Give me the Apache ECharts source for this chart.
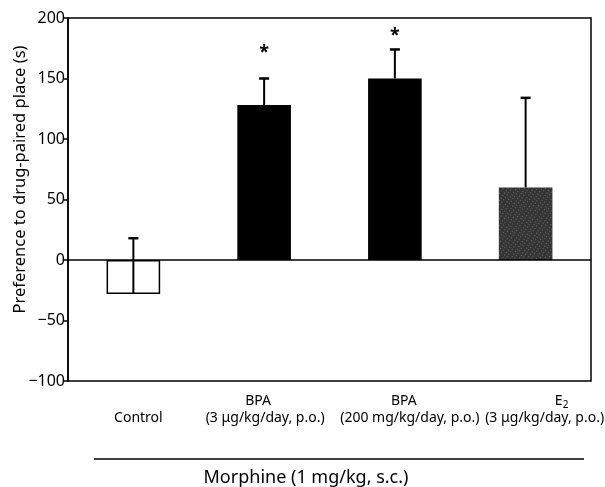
<!DOCTYPE html>
<html>
<head>
<meta charset="utf-8">
<script src="https://cdn.jsdelivr.net/npm/echarts@6/dist/echarts.min.js"></script>
<style>
  html, body { margin: 0; padding: 0; background: #fff; }
  #chart { width: 605px; height: 487px; }
</style>
</head>
<body>
<div id="chart"></div>
<script>
// Place-preference data (mean and upper error, seconds)
const categories = ['Control', 'BPA 3', 'BPA 200', 'E2'];
const labelLine1 = ['', 'BPA', 'BPA', 'E'];
const labelLine2 = ['Control', '(3 μg/kg/day, p.o.)', '(200 mg/kg/day, p.o.)', '(3 μg/kg/day, p.o.)'];
const preference = [-28, 128, 150, 60];
const errorUpper = [46, 22, 24, 74];
const starLevel = [null, 171, 185, null];
const yTicks = { min: -100, max: 200, interval: 50 };

// Styling / layout
const FONT = '"Noto Sans", "DejaVu Sans", sans-serif';
const barColors = ['#ffffff', '#000000', '#000000', '#353535'];
const line1Shift = [0, -6, 9, 36];   // horizontal nudges of label lines (px)
const line2Shift = [5, 1, 15, 19];

function shiftPad(d) {
  return d >= 0 ? [0, 0, 0, 2 * d] : [0, 2 * -d, 0, 0];
}

const rich = {
  sub: { fontFamily: FONT, fontSize: 10, color: '#000', verticalAlign: 'bottom', padding: [7, 0, 0, 0], lineHeight: 17 }
};
categories.forEach((c, i) => {
  rich['a' + i] = { fontFamily: FONT, fontSize: 14, color: '#000', lineHeight: 17, padding: shiftPad(line1Shift[i]) };
  rich['b' + i] = { fontFamily: FONT, fontSize: 14, color: '#000', lineHeight: 17, padding: shiftPad(line2Shift[i]) };
});

function categoryLabel(v, i) {
  let first = labelLine1[i] ? '{a' + i + '|' + labelLine1[i] + '}' : '';
  if (categories[i] === 'E2') first += '{sub|2}';
  return first + '\n{b' + i + '|' + labelLine2[i] + '}';
}

const chart = echarts.init(document.getElementById('chart'));

chart.setOption({
  backgroundColor: '#fff',
  animation: false,
  grid: {
    left: 68, right: 14, top: 18, bottom: 106,
    outerBoundsMode: 'none',
    containLabel: false,
    show: true, borderColor: '#000', borderWidth: 1.5, backgroundColor: 'transparent'
  },
  xAxis: {
    type: 'category',
    data: categories,
    axisLine: { show: false },
    axisTick: { show: false },
    axisLabel: {
      interval: 0,
      hideOverlap: false,
      margin: 12,
      fontFamily: FONT,
      fontSize: 14,
      color: '#000',
      lineHeight: 17,
      formatter: categoryLabel,
      rich: rich
    }
  },
  yAxis: {
    type: 'value',
    min: yTicks.min, max: yTicks.max, interval: yTicks.interval,
    name: 'Preference to drug-paired place (s)',
    nameLocation: 'middle',
    nameGap: 39,
    nameMoveOverlap: false,
    nameTextStyle: { fontFamily: FONT, fontSize: 16.5, color: '#000', padding: [0, 0, 0, 40] },
    axisLine: { show: true, lineStyle: { color: '#000', width: 1.5 } },
    axisTick: { show: true, length: 4, lineStyle: { color: '#000', width: 1.5 } },
    splitLine: { show: false },
    axisLabel: {
      fontFamily: FONT, fontSize: 16, color: '#000', margin: 3,
      formatter: v => String(v).replace('-', '\u2212')
    }
  },
  series: [
    {
      type: 'bar',
      barWidth: '41%',
      data: preference.map((v, i) => ({
        value: v,
        itemStyle: {
          color: barColors[i],
          borderColor: '#000',
          borderWidth: i === 0 ? 1.5 : 0,
          decal: categories[i] === 'E2' ? {
            symbol: 'rect', symbolSize: 1, color: 'rgba(255,255,255,0.28)',
            dashArrayX: [[1, 2, 1, 3]], dashArrayY: [1, 2], rotation: 0.6
          } : null
        }
      })),
      markLine: {
        silent: true,
        symbol: 'none',
        label: { show: false },
        lineStyle: { color: '#000', width: 1.5, type: 'solid' },
        data: [{ yAxis: 0 }]
      }
    },
    {
      type: 'custom',
      data: preference.map((v, i) => [i, v, v + errorUpper[i], starLevel[i] === null ? NaN : starLevel[i]]),
      renderItem: (params, api) => {
        const x = api.value(0);
        const base = api.coord([x, api.value(1)]);
        const top = api.coord([x, api.value(2)]);
        const cap = 5;
        const children = [
          { type: 'line', shape: { x1: base[0], y1: base[1], x2: top[0], y2: top[1] },
            style: { stroke: '#000', lineWidth: 2 } },
          { type: 'line', shape: { x1: top[0] - cap, y1: top[1], x2: top[0] + cap, y2: top[1] },
            style: { stroke: '#000', lineWidth: 2.5 } }
        ];
        const s = api.value(3);
        if (!isNaN(s)) {
          const p = api.coord([x, s]);
          children.push({
            type: 'text',
            style: { x: p[0], y: p[1], text: '*', align: 'center', verticalAlign: 'middle',
                     font: 'bold 18px ' + FONT, fill: '#000' }
          });
        }
        return { type: 'group', children };
      },
      z: 5
    }
  ],
  graphic: [
    { type: 'line', shape: { x1: 94, y1: 459, x2: 584, y2: 459 },
      style: { stroke: '#000', lineWidth: 1.6 } },
    { type: 'text', x: 306, y: 478,
      style: { text: 'Morphine (1 mg/kg, s.c.)', font: '18px ' + FONT, fill: '#000',
               align: 'center', verticalAlign: 'middle' } }
  ]
});
</script>
</body>
</html>
